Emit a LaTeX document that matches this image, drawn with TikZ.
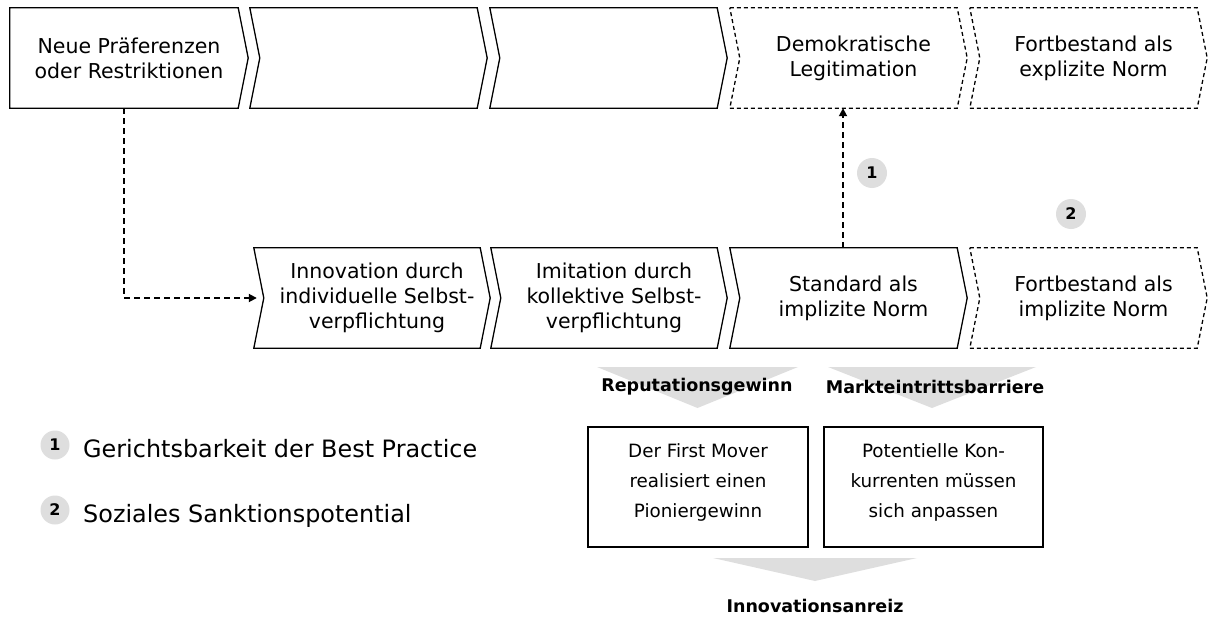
\documentclass[tikz,border=0pt]{standalone}
\usepackage{fontspec}
\setmainfont{DejaVu Sans}
\usetikzlibrary{arrows.meta}
\definecolor{lgray}{RGB}{222,222,222}
\begin{document}
\begin{tikzpicture}[x=1pt,y=-1pt,
  txt/.style={draw=none,inner sep=0pt,minimum height=100pt,align=center,font=\fontsize{20.5}{25}\selectfont},
  chev/.style={draw=black,line width=1.3pt,line join=miter},
  dchev/.style={chev,dash pattern=on 4pt off 3pt},
  darr/.style={line width=1.8pt,dash pattern=on 6pt off 4pt,-{Triangle[length=8pt,width=8pt]}},
  num/.style={circle,fill=lgray,minimum size=30pt,inner sep=0pt,font=\bfseries\fontsize{16}{16}\selectfont},
  lbl/.style={font=\bfseries\fontsize{17.5}{20}\selectfont,inner sep=0pt},
  box/.style={draw,line width=1.3pt,minimum height=120pt,align=center,inner sep=0pt,text depth=12pt,font=\fontsize{18.3}{30}\selectfont},
  legend/.style={anchor=base west,font=\fontsize{23.9}{28}\selectfont,inner sep=0pt},
]
\useasboundingbox (0,0) rectangle (1208,618);

% top row
\node[txt,minimum width=238pt] (t1) at (129,58) {Neue Präferenzen\\oder Restriktionen};
\node[txt,minimum width=227pt] (t2) at (373.5,58) {};
\node[txt,minimum width=227pt] (t3) at (613.5,58) {};
\node[txt,minimum width=227pt] (t4) at (853.5,58) {Demokratische\\Legitimation};
\node[txt,minimum width=227pt] (t5) at (1093.5,58) {Fortbestand als\\explizite Norm};

% middle row
\node[txt,minimum width=226pt] (m1) at (377,298) {Innovation durch\\individuelle Selbst-\\verpflichtung};
\node[txt,minimum width=226pt] (m2) at (614,298) {Imitation durch\\kollektive Selbst-\\verpflichtung};
\node[txt,minimum width=227pt] (m3) at (853.5,298) {Standard als\\implizite Norm};
\node[txt,minimum width=227pt] (m4) at (1093.5,298) {Fortbestand als\\implizite Norm};

% chevron outlines
\draw[chev] (t1.north west) -- ([xshift=-10pt]t1.north east) -- (t1.east) -- ([xshift=-10pt]t1.south east) -- (t1.south west) -- cycle;
\foreach \n in {t2,t3,m1,m2,m3}
  \draw[chev] ([xshift=-10pt]\n.north west) -- ([xshift=-10pt]\n.north east) -- (\n.east) -- ([xshift=-10pt]\n.south east) -- ([xshift=-10pt]\n.south west) -- (\n.west) -- cycle;
\foreach \n in {t4,t5,m4}
  \draw[dchev] ([xshift=-10pt]\n.north west) -- ([xshift=-10pt]\n.north east) -- (\n.east) -- ([xshift=-10pt]\n.south east) -- ([xshift=-10pt]\n.south west) -- (\n.west) -- cycle;

% connectors
\draw[darr,shorten >=7pt] ([xshift=-5pt]t1.south) |- (m1.west);
\draw[darr] ([xshift=-10.5pt]m3.north) -- ([xshift=-10.5pt]t4.south);

% numbered markers
\node[num] (n1) at (872,173) {1};
\node[num] (n2) at (1071,214) {2};

% gray arrows and labels
\fill[lgray] (597,367) -- (798,367) -- (697.5,408) -- cycle;
\fill[lgray] (828,367) -- (1036,367) -- (932,408) -- cycle;
\node[lbl] (g1) at (697,387) {Reputationsgewinn};
\node[lbl] (g2) at (935,387) {Markteintrittsbarriere};

\node[box,minimum width=220pt] (b1) at (698,487) {Der First Mover\\realisiert einen\\Pioniergewinn};
\node[box,minimum width=219pt] (b2) at (933.5,487) {Potentielle Kon-\\kurrenten müssen\\sich anpassen};

\fill[lgray] (713,558) -- (917,558) -- (815,581) -- cycle;
\node[lbl] (g3) at (815,606) {Innovationsanreiz};

% legend
\node[num,minimum size=29pt] (l1) at (55,445) {1};
\node[legend] (lt1) at (83,457) {Gerichtsbarkeit der Best Practice};
\node[num,minimum size=29pt] (l2) at (55,510) {2};
\node[legend] (lt2) at (83,522) {Soziales Sanktionspotential};
\end{tikzpicture}
\end{document}
